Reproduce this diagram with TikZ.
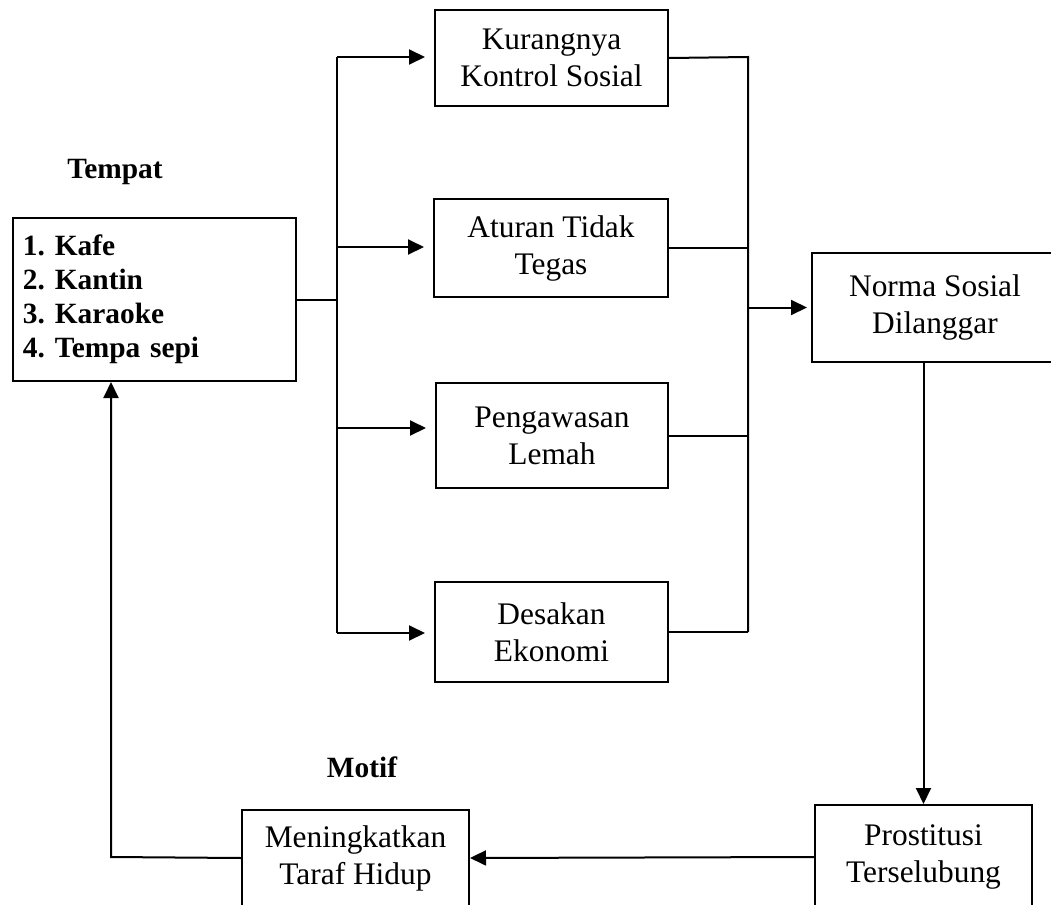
\documentclass[tikz,border=0pt]{standalone}
\usepackage{fontspec}
\setmainfont{Liberation Serif}
\usetikzlibrary{arrows.meta}
\frenchspacing

\begin{document}
\begin{tikzpicture}[x=0.5pt,y=-0.5pt,line width=1pt,
  box/.style={draw,align=center,inner sep=0pt,font=\fontsize{15.7}{18.5}\selectfont},
  lbl/.style={font=\fontsize{14.7}{17}\selectfont\bfseries},
  arr/.style={-{Triangle[length=8pt,width=7.5pt]}}]
\clip (0,0) rectangle (1051,905);
% left: place
\node[lbl] (tempat) at (115,172) {Tempat};
\node[draw,inner xsep=5pt,text width=131.5pt,minimum height=81.5pt,align=left,
  font=\fontsize{14.7}{17}\selectfont\bfseries] (list) at (154.5,299.5)
  {1. Kafe\\2. Kantin\\3. Karaoke\\4. Tempa sepi};
% middle column
\node[box,minimum width=116.5pt,minimum height=48pt] (kurang) at (551.5,58)
  {Kurangnya\\Kontrol Sosial};
\node[box,minimum width=117pt,minimum height=49pt] (aturan) at (551,248)
  {Aturan Tidak\\Tegas};
\node[box,minimum width=116pt,minimum height=52.5pt] (awas) at (552,435.5)
  {Pengawasan\\Lemah};
\node[box,minimum width=116.5pt,minimum height=50pt] (desak) at (551.5,632)
  {Desakan\\Ekonomi};
% right and bottom
\node[box,minimum width=123pt,minimum height=54.5pt] (norma) at (935,307.5)
  {Norma Sosial\\Dilanggar};
\node[box,minimum width=108.5pt,minimum height=52pt] (prost) at (923.5,857)
  {Prostitusi\\Terselubung};
\node[box,minimum width=113.5pt,minimum height=48pt] (taraf) at (355.5,858)
  {Meningkatkan\\Taraf Hidup};
\node[lbl] (motif) at (362,767) {Motif};
% bus lines
\coordinate (lb1) at (337,57);
\coordinate (lb2) at (337,247);
\coordinate (lb3) at (337,428);
\coordinate (lb4) at (337,633);
\coordinate (rb1) at (748,57);
\coordinate (rb4) at (748,632);
\coordinate (lbend) at (111,857);
\draw (list.east) -- (list.east -| lb1);
\draw (lb1) -- (lb4);
\draw[arr,shorten >=4.5pt] (lb1) -- (lb1 -| kurang.west);
\draw[arr,shorten >=4.5pt] (lb2) -- (lb2 -| aturan.west);
\draw[arr,shorten >=4.5pt] (lb3) -- (lb3 -| awas.west);
\draw[arr,shorten >=4.5pt] (lb4) -- (lb4 -| desak.west);
\draw (kurang.east) -- (rb1) -- (rb4);
\draw (aturan.east) -- (aturan.east -| rb1);
\draw (awas.east) -- (awas.east -| rb1);
\draw (desak.east) -- (rb4);
\draw[arr,shorten >=2pt] (norma.west -| rb1) -- (norma.west);
\draw[arr] (prost.north |- norma.south) -- (prost.north);
\draw[arr] (prost.west) -- (taraf.east);
\draw[arr] (taraf.west) -- (lbend) -- (lbend |- list.south);
\end{tikzpicture}
\end{document}
